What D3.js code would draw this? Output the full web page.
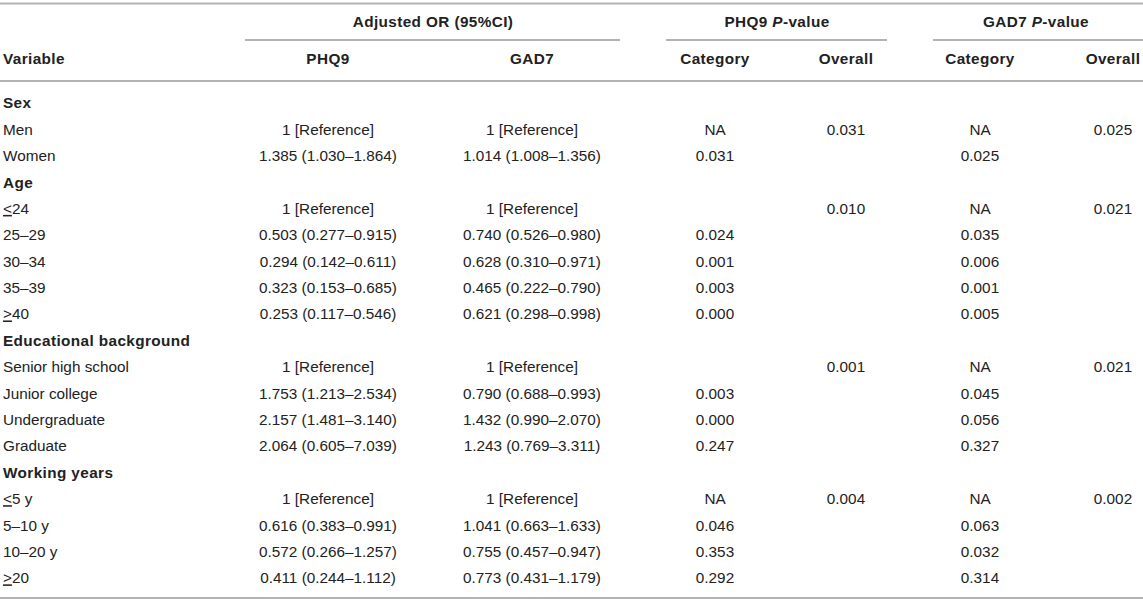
<!DOCTYPE html>
<html>
<head>
<meta charset="utf-8">
<script src="https://cdn.jsdelivr.net/npm/d3@7"></script>
<style>
  body { margin: 0; background: #fff; }
  text { font-family: "Liberation Sans", Arial, sans-serif; fill: #222; }
</style>
</head>
<body>
<div id="chart-area"></div>
<script>
// table content
var rowLabels = ["Sex", "Men", "Women", "Age", "≤24", "25–29", "30–34", "35–39", "≥40",
    "Educational background", "Senior high school", "Junior college", "Undergraduate", "Graduate",
    "Working years", "≤5 y", "5–10 y", "10–20 y", "≥20"];
var groupRows = ["Sex", "Age", "Educational background", "Working years"];
var phq9OR = ["", "1 [Reference]", "1.385 (1.030–1.864)", "", "1 [Reference]", "0.503 (0.277–0.915)",
    "0.294 (0.142–0.611)", "0.323 (0.153–0.685)", "0.253 (0.117–0.546)", "", "1 [Reference]",
    "1.753 (1.213–2.534)", "2.157 (1.481–3.140)", "2.064 (0.605–7.039)", "", "1 [Reference]",
    "0.616 (0.383–0.991)", "0.572 (0.266–1.257)", "0.411 (0.244–1.112)"];
var gad7OR = ["", "1 [Reference]", "1.014 (1.008–1.356)", "", "1 [Reference]", "0.740 (0.526–0.980)",
    "0.628 (0.310–0.971)", "0.465 (0.222–0.790)", "0.621 (0.298–0.998)", "", "1 [Reference]",
    "0.790 (0.688–0.993)", "1.432 (0.990–2.070)", "1.243 (0.769–3.311)", "", "1 [Reference]",
    "1.041 (0.663–1.633)", "0.755 (0.457–0.947)", "0.773 (0.431–1.179)"];
var phq9Cat = ["", "NA", "0.031", "", "", "0.024", "0.001", "0.003", "0.000", "", "",
    "0.003", "0.000", "0.247", "", "NA", "0.046", "0.353", "0.292"];
var phq9Overall = ["", "0.031", "", "", "0.010", "", "", "", "", "", "0.001",
    "", "", "", "", "0.004", "", "", ""];
var gad7Cat = ["", "NA", "0.025", "", "NA", "0.035", "0.006", "0.001", "0.005", "", "NA",
    "0.045", "0.056", "0.327", "", "NA", "0.063", "0.032", "0.314"];
var gad7Overall = ["", "0.025", "", "", "0.021", "", "", "", "", "", "0.021",
    "", "", "", "", "0.002", "", "", ""];
var columnHeads = ["Variable", "PHQ9", "GAD7", "Category", "Overall", "Category", "Overall"];

var w = 1143, h = 603;
var fs = 15.3;
var boldSpacing = 0.4;
var lineColor = "#b3b3b3";

var svg = d3.select("#chart-area").append("svg")
    .attr("width", w)
    .attr("height", h);

// column centres (first column left aligned)
var colX = [3, 328, 532, 715, 846, 980, 1113];

var y = d3.scalePoint()
    .domain(d3.range(rowLabels.length))
    .range([103, 578]);

// rules
function rule(x1, x2, yy) {
    svg.append("line")
        .attr("x1", x1).attr("x2", x2)
        .attr("y1", yy).attr("y2", yy)
        .attr("stroke", lineColor)
        .attr("stroke-width", 2);
}
rule(0, w, 3.5);
rule(245, 620, 40);
rule(666, 887, 40);
rule(933, w, 40);
rule(0, w, 81);
rule(0, w, 598);

// spanning headers
var spans = [
    { x: 433, parts: [["Adjusted OR (95%CI)", "normal"]] },
    { x: 777, parts: [["PHQ9 ", "normal"], ["P", "italic"], ["-value", "normal"]] },
    { x: 1036, parts: [["GAD7 ", "normal"], ["P", "italic"], ["-value", "normal"]] }
];
spans.forEach(function(s) {
    var t = svg.append("text")
        .attr("x", s.x)
        .attr("y", 22)
        .attr("dy", "0.35em")
        .attr("text-anchor", "middle")
        .attr("font-size", fs)
        .attr("font-weight", "bold")
        .attr("letter-spacing", boldSpacing);
    s.parts.forEach(function(p) {
        t.append("tspan").attr("font-style", p[1]).text(p[0]);
    });
});

svg.selectAll(".colhead")
    .data(columnHeads)
    .enter().append("text")
        .attr("class", "colhead")
        .attr("x", function(d, i) { return colX[i]; })
        .attr("y", 59)
        .attr("dy", "0.35em")
        .attr("text-anchor", function(d, i) { return i == 0 ? "start" : "middle"; })
        .attr("font-size", fs)
        .attr("font-weight", "bold")
        .attr("letter-spacing", boldSpacing)
        .text(function(d) { return d; });

// first column, with the underlined < / > used for ≤ / ≥
var labels = svg.selectAll(".label")
    .data(rowLabels)
    .enter().append("text")
        .attr("class", "label")
        .attr("x", colX[0])
        .attr("y", function(d, i) { return y(i); })
        .attr("dy", "0.35em")
        .attr("font-size", fs)
        .attr("font-weight", function(d) { return groupRows.indexOf(d) >= 0 ? "bold" : "normal"; })
        .attr("letter-spacing", function(d) { return groupRows.indexOf(d) >= 0 ? boldSpacing : 0; });

labels.each(function(d) {
    var t = d3.select(this);
    var c = d.charAt(0);
    if (c == "≤" || c == "≥") {
        t.append("tspan")
            .attr("text-decoration", "underline")
            .text(c == "≤" ? "<" : ">");
        t.append("tspan").text(d.slice(1));
    } else {
        t.text(d);
    }
});

var cols = [phq9OR, gad7OR, phq9Cat, phq9Overall, gad7Cat, gad7Overall];
cols.forEach(function(col, ci) {
    svg.selectAll(".c" + ci)
        .data(col)
        .enter().append("text")
            .attr("class", "c" + ci)
            .attr("x", colX[ci + 1])
            .attr("y", function(d, i) { return y(i); })
            .attr("dy", "0.35em")
            .attr("text-anchor", "middle")
            .attr("font-size", fs)
            .text(function(d) { return d; });
});
</script>
</body>
</html>
